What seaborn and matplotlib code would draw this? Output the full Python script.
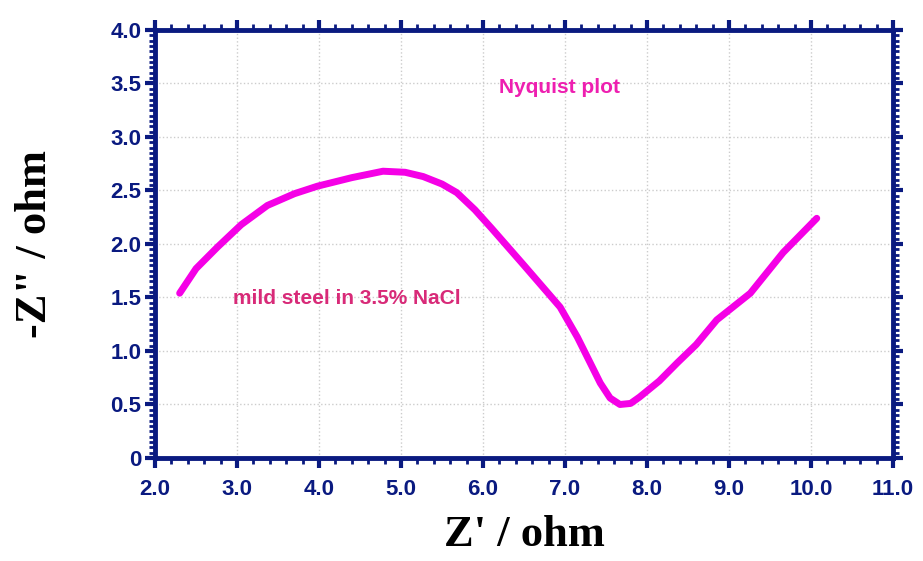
import numpy as np
import pandas as pd
import matplotlib.pyplot as plt
import seaborn as sns
from matplotlib.ticker import MultipleLocator, FuncFormatter

# Nyquist data
z_real = [2.30, 2.50, 2.76, 3.05, 3.37, 3.70, 3.98, 4.40, 4.78, 5.05, 5.27,
          5.50, 5.68, 5.90, 6.10, 6.50, 6.94, 7.15, 7.30, 7.43, 7.55, 7.67,
          7.80, 7.91, 8.15, 8.37, 8.60, 8.85, 9.26, 9.66, 10.07]
z_imag = [1.54, 1.77, 1.97, 2.18, 2.36, 2.47, 2.54, 2.62, 2.68, 2.67, 2.63,
          2.56, 2.48, 2.32, 2.15, 1.80, 1.41, 1.13, 0.90, 0.70, 0.56, 0.50,
          0.51, 0.57, 0.72, 0.89, 1.06, 1.29, 1.54, 1.92, 2.24]

df = pd.DataFrame({'Zr': z_real, 'Zi': z_imag})

sns.set_style('white')
navy = '#0a1a80'

fig = plt.figure(figsize=(9.23, 5.61), dpi=100)
ax = fig.add_axes([0.168, 0.1836, 0.7995, 0.763])

sns.lineplot(data=df, x='Zr', y='Zi', sort=False, color='#f500e6',
             linewidth=5, ax=ax, solid_capstyle='round', solid_joinstyle='round')

ax.set_xlim(2.0, 11.0)
ax.set_ylim(0, 4.0)
ax.xaxis.set_major_locator(MultipleLocator(1.0))
ax.xaxis.set_minor_locator(MultipleLocator(0.2))
ax.yaxis.set_major_locator(MultipleLocator(0.5))
ax.yaxis.set_minor_locator(MultipleLocator(0.05))
ax.xaxis.set_major_formatter(FuncFormatter(lambda v, p: f'{v:.1f}'))
ax.yaxis.set_major_formatter(FuncFormatter(lambda v, p: '0' if v == 0 else f'{v:.1f}'))

ax.grid(True, which='major', color='#cccccc', linestyle=':', linewidth=1.0)

for s in ax.spines.values():
    s.set_visible(True)
    s.set_color(navy)
    s.set_linewidth(3.5)

ax.tick_params(which='both', direction='out', color=navy,
               top=True, right=True, bottom=True, left=True,
               labeltop=False, labelright=False)
ax.tick_params(which='major', length=7, width=3)
ax.tick_params(which='minor', length=4, width=2)
ax.tick_params(axis='x', which='major', pad=8)
ax.tick_params(axis='y', which='major', pad=3)
for lab in ax.get_xticklabels() + ax.get_yticklabels():
    lab.set_fontfamily('Liberation Sans')
    lab.set_fontweight('bold')
    lab.set_fontsize(16)
    lab.set_color(navy)

ax.set_xlabel("Z' / ohm", fontfamily='Liberation Serif', fontweight='bold',
              fontsize=32, color='black', labelpad=11)
ax.set_ylabel('-Z" / ohm', fontfamily='Liberation Serif', fontweight='bold',
              fontsize=32, color='black', labelpad=40)

ax.text(6.2, 3.46, 'Nyquist plot', color='#ee1fb0', fontsize=15,
        fontweight='bold', fontfamily='Liberation Sans', va='center')
ax.text(2.95, 1.49, 'mild steel in 3.5% NaCl', color='#d82a78', fontsize=15,
        fontweight='bold', fontfamily='Liberation Sans', va='center')

fig.savefig('out.png', dpi=100)
